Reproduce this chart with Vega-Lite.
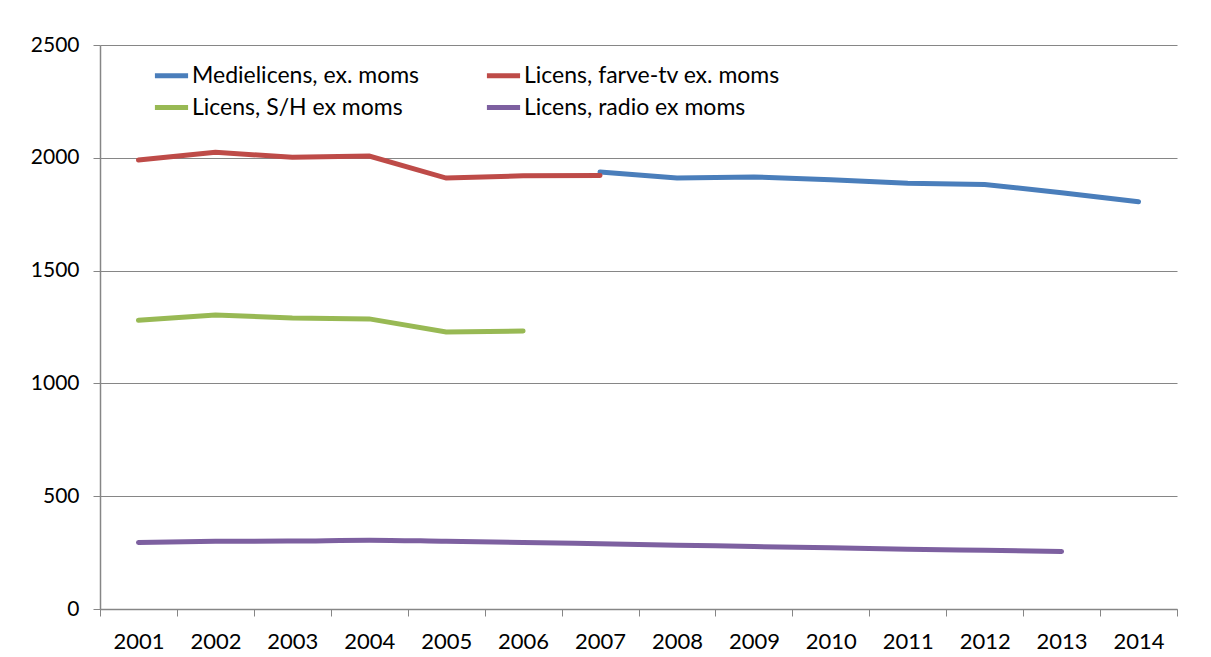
{
  "$schema": "https://vega.github.io/schema/vega-lite/v6.json",
  "width": 1077,
  "height": 564,
  "autosize": {"type": "none"},
  "padding": {"left": 100, "top": 45, "right": 34, "bottom": 48},
  "background": "white",
  "config": {
    "font": "Lato",
    "view": {"stroke": null},
    "axis": {
      "domainColor": "#868686",
      "tickColor": "#868686",
      "gridColor": "#868686",
      "gridOpacity": 1,
      "labelColor": "#000000",
      "labelFont": "Lato",
      "titleFont": "Lato"
    }
  },
  "data": {
    "values": [
      {"year": "2007", "series": "Medielicens, ex. moms", "value": 1937},
      {"year": "2008", "series": "Medielicens, ex. moms", "value": 1910},
      {"year": "2009", "series": "Medielicens, ex. moms", "value": 1915},
      {"year": "2010", "series": "Medielicens, ex. moms", "value": 1903},
      {"year": "2011", "series": "Medielicens, ex. moms", "value": 1887},
      {"year": "2012", "series": "Medielicens, ex. moms", "value": 1882},
      {"year": "2013", "series": "Medielicens, ex. moms", "value": 1845},
      {"year": "2014", "series": "Medielicens, ex. moms", "value": 1805},
      {"year": "2001", "series": "Licens, farve-tv ex. moms", "value": 1990},
      {"year": "2002", "series": "Licens, farve-tv ex. moms", "value": 2025},
      {"year": "2003", "series": "Licens, farve-tv ex. moms", "value": 2002},
      {"year": "2004", "series": "Licens, farve-tv ex. moms", "value": 2008},
      {"year": "2005", "series": "Licens, farve-tv ex. moms", "value": 1910},
      {"year": "2006", "series": "Licens, farve-tv ex. moms", "value": 1920},
      {"year": "2007", "series": "Licens, farve-tv ex. moms", "value": 1922},
      {"year": "2001", "series": "Licens, S/H ex moms", "value": 1280},
      {"year": "2002", "series": "Licens, S/H ex moms", "value": 1303},
      {"year": "2003", "series": "Licens, S/H ex moms", "value": 1290},
      {"year": "2004", "series": "Licens, S/H ex moms", "value": 1286},
      {"year": "2005", "series": "Licens, S/H ex moms", "value": 1228},
      {"year": "2006", "series": "Licens, S/H ex moms", "value": 1232},
      {"year": "2001", "series": "Licens, radio ex moms", "value": 295},
      {"year": "2002", "series": "Licens, radio ex moms", "value": 300},
      {"year": "2003", "series": "Licens, radio ex moms", "value": 301},
      {"year": "2004", "series": "Licens, radio ex moms", "value": 305},
      {"year": "2005", "series": "Licens, radio ex moms", "value": 300},
      {"year": "2006", "series": "Licens, radio ex moms", "value": 295},
      {"year": "2007", "series": "Licens, radio ex moms", "value": 289},
      {"year": "2008", "series": "Licens, radio ex moms", "value": 283},
      {"year": "2009", "series": "Licens, radio ex moms", "value": 277},
      {"year": "2010", "series": "Licens, radio ex moms", "value": 271},
      {"year": "2011", "series": "Licens, radio ex moms", "value": 265},
      {"year": "2012", "series": "Licens, radio ex moms", "value": 260},
      {"year": "2013", "series": "Licens, radio ex moms", "value": 255}
    ]
  },
  "encoding": {
    "x": {
      "field": "year",
      "type": "ordinal",
      "bandPosition": 0.5,
      "scale": {"type": "band", "paddingInner": 0, "paddingOuter": 0,
        "domain": ["2001","2002","2003","2004","2005","2006","2007","2008","2009","2010","2011","2012","2013","2014"]},
      "axis": {
        "title": null,
        "labelAngle": 0,
        "tickBand": "extent",
        "tickSize": 7,
        "labelPadding": 15,
        "labelFontSize": 22,
        "grid": false,
        "domainWidth": 1.5
      }
    },
    "y": {
      "field": "value",
      "type": "quantitative",
      "scale": {"domain": [0, 2500], "nice": false},
      "axis": {
        "title": null,
        "values": [0, 500, 1000, 1500, 2000, 2500],
        "format": "d",
        "tickSize": 7,
        "labelPadding": 14,
        "labelFontSize": 21,
        "grid": true,
        "gridWidth": 1.2,
        "domainWidth": 1.5
      }
    },
    "color": {
      "field": "series",
      "type": "nominal",
      "scale": {
        "domain": ["Medielicens, ex. moms", "Licens, farve-tv ex. moms", "Licens, S/H ex moms", "Licens, radio ex moms"],
        "range": ["#4A7EBB", "#BE4B48", "#98B954", "#7D60A0"]
      },
      "legend": {
        "title": null,
        "orient": "none",
        "legendX": 52,
        "legendY": 11,
        "columns": 2,
        "direction": "horizontal",
        "symbolType": "stroke",
        "symbolSize": 1100,
        "symbolStrokeWidth": 5,
        "labelFontSize": 23,
        "labelFont": "Lato",
        "labelColor": "#000000",
        "labelOffset": 1,
        "labelLimit": 400,
        "columnPadding": 56,
        "rowPadding": 0,
        "padding": 0
      }
    }
  },
  "layer": [
    {
      "transform": [{"filter": "datum.series !== 'Licens, radio ex moms'"}],
      "mark": {"type": "line", "strokeWidth": 5, "strokeCap": "round"}
    },
    {
      "transform": [{"filter": "datum.series === 'Licens, radio ex moms'"}],
      "mark": {"type": "line", "strokeWidth": 5, "strokeCap": "round", "interpolate": "monotone"}
    }
  ]
}
